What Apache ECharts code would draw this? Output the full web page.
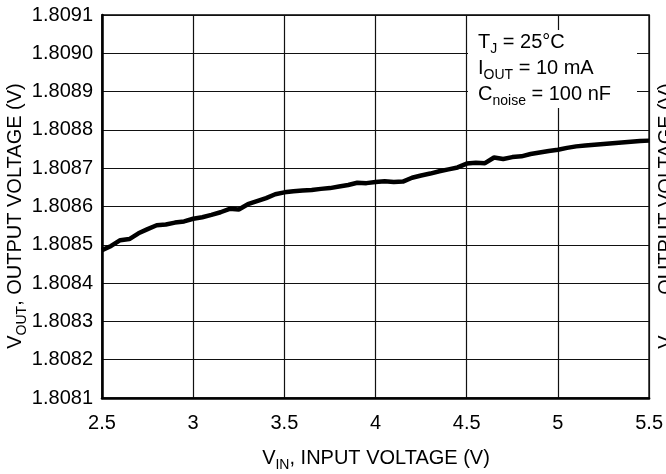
<!DOCTYPE html>
<html><head><meta charset="utf-8">
<script src="https://cdn.jsdelivr.net/npm/echarts@6/dist/echarts.min.js"></script>
<style>html,body{margin:0;padding:0;background:#fff}#c{width:666px;height:474px}</style>
</head><body><div id="c"></div>
<script>
const vin = [2.50,2.55,2.60,2.65,2.70,2.75,2.80,2.85,2.90,2.95,3.00,3.05,3.10,3.15,3.20,3.25,3.30,3.35,3.40,3.45,3.50,3.55,3.60,3.65,3.70,3.75,3.80,3.85,3.90,3.95,4.00,4.05,4.10,4.15,4.20,4.25,4.30,4.35,4.40,4.45,4.50,4.55,4.60,4.65,4.70,4.75,4.80,4.85,4.90,4.95,5.00,5.05,5.10,5.15,5.20,5.25,5.30,5.35,5.40,5.45,5.50];
const vout = [1.808486,1.808497,1.808512,1.808515,1.808530,1.808541,1.808551,1.808553,1.808558,1.808561,1.808568,1.808572,1.808578,1.808585,1.808594,1.808592,1.808606,1.808614,1.808622,1.808632,1.808637,1.808640,1.808642,1.808643,1.808646,1.808648,1.808652,1.808656,1.808662,1.808661,1.808664,1.808666,1.808664,1.808665,1.808675,1.808681,1.808686,1.808692,1.808697,1.808702,1.808712,1.808714,1.808713,1.808728,1.808724,1.808729,1.808731,1.808737,1.808741,1.808745,1.808748,1.808753,1.808757,1.808759,1.808761,1.808763,1.808765,1.808767,1.808769,1.808771,1.808772];
const xTicks = ['2.5','3','3.5','4','4.5','5','5.5'];
const yTicks = ['1.8081','1.8082','1.8083','1.8084','1.8085','1.8086','1.8087','1.8088','1.8089','1.8090','1.8091'];
const notes = [['T','J',' = 25°C'],['I','OUT',' = 10 mA'],['C','noise',' = 100 nF']];

const FONT = '"Liberation Sans", Arial, sans-serif';
const rich = {
  m:{fontSize:20,fontFamily:FONT,color:'#000',lineHeight:22,verticalAlign:'bottom',padding:[0,0,4,0]},
  s:{fontSize:14,fontFamily:FONT,color:'#000',lineHeight:16,verticalAlign:'bottom'}
};
const chart = echarts.init(document.getElementById('c'), null, {renderer:'canvas'});
const data = vin.map((x,i)=>[x,vout[i]]);
const ytitle = '{m|V}{s|OUT}{m|, OUTPUT VOLTAGE (V)}';
chart.setOption({
  animation:false,
  backgroundColor:'#fff',
  grid:{left:102,right:16,top:15,bottom:76,show:true,borderColor:'#000',borderWidth:1.5},
  xAxis:{type:'value',min:2.5,max:5.5,interval:0.5,
    axisLine:{lineStyle:{color:'#000',width:2.5}},axisTick:{show:false},
    axisLabel:{fontSize:20,fontFamily:FONT,color:'#000',margin:15,
      formatter:(v)=>xTicks[Math.round((v-2.5)/0.5)]},
    splitLine:{lineStyle:{color:'#111',width:1.2}}},
  yAxis:{type:'value',min:1.8081,max:1.8091,interval:0.0001,
    axisLine:{show:true,lineStyle:{color:'#000',width:2.5}},axisTick:{show:false},
    axisLabel:{fontSize:20,fontFamily:FONT,color:'#000',margin:9,
      formatter:(v)=>yTicks[Math.round((v-1.8081)/0.0001)]},
    splitLine:{lineStyle:{color:'#111',width:1.2}}},
  series:[{type:'line',data:data,showSymbol:false,lineStyle:{color:'#000',width:4.5},z:5}],
  graphic:[
    {type:'rect',z:10,shape:{x:468,y:30,width:169,height:78},style:{fill:'#fff'}},
    ...notes.map((n,i)=>({type:'text',z:11,x:478,y:56+i*26,
      style:{text:'{m|'+n[0]+'}{s|'+n[1]+'}{m|'+n[2]+'}',rich:rich,align:'left',verticalAlign:'bottom'}})),
    {type:'text',z:11,x:18,y:216,rotation:Math.PI/2,
      style:{text:ytitle,rich:rich,align:'center',verticalAlign:'middle'}},
    {type:'text',z:11,x:669,y:216,rotation:Math.PI/2,
      style:{text:ytitle,rich:rich,align:'center',verticalAlign:'middle'}},
    {type:'text',z:11,x:376,y:461,
      style:{text:'{m|V}{s|IN}{m|, INPUT VOLTAGE (V)}',rich:rich,align:'center',verticalAlign:'middle'}}
  ]
});
</script></body></html>
